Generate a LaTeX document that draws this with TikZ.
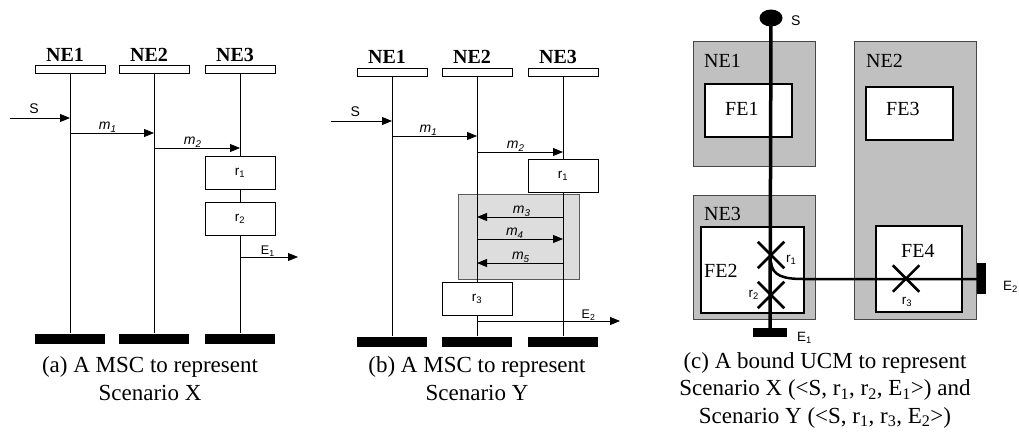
\documentclass[tikz,border=0pt]{standalone}
\usepackage{fontspec}
\setmainfont{Liberation Serif}
\setsansfont{Liberation Sans}
\usetikzlibrary{arrows.meta,shapes.geometric,shapes.misc}
\definecolor{NEGray}{RGB}{192,192,192}
\definecolor{NEBorder}{RGB}{70,70,70}
\definecolor{LoopGray}{RGB}{221,221,221}
\definecolor{LoopBorder}{RGB}{90,90,90}

\begin{document}
\begin{tikzpicture}[x=1pt,y=-1pt,
    inst/.style={draw,fill=white,line width=0.8pt,minimum width=70pt,
      minimum height=8pt,inner sep=0pt},
    stopbar/.style={fill=black,minimum width=70pt,minimum height=10pt,inner sep=0pt},
    iname/.style={font=\fontsize{20}{20}\selectfont\bfseries,anchor=base,inner sep=0pt},
    life/.style={line width=0.8pt},
    resp/.style={draw,fill=white,line width=0.8pt,minimum width=70pt,
      minimum height=33pt,inner sep=0pt,font=\sffamily\fontsize{13.5}{14}\selectfont},
    loopbox/.style={draw=LoopBorder,fill=LoopGray,line width=0.8pt,inner sep=0pt},
    msg/.style={-{Triangle[length=10pt,width=8pt]},line width=0.8pt},
    mlabel/.style={font=\sffamily\fontsize{14}{14}\selectfont,inner sep=0pt,above=0.5pt},
    caption/.style={font=\fontsize{23}{27.5}\selectfont,align=center,anchor=base,inner sep=0pt},
    ne/.style={draw=NEBorder,fill=NEGray,line width=0.8pt,inner sep=0pt},
    fe/.style={draw,fill=white,line width=1.2pt,inner sep=0pt},
    uname/.style={font=\fontsize{20}{20}\selectfont,anchor=base west,inner sep=0pt},
    ulabel/.style={font=\sffamily\fontsize{13.5}{14}\selectfont,inner sep=0pt},
    ucm/.style={line width=3.5pt},
    respx/.style={draw,cross out,line width=2.5pt,minimum size=24pt,inner sep=0pt},
    endbar/.style={fill=black,inner sep=0pt}
  ]
  \useasboundingbox (0,0) rectangle (1019,431);

  % (a) MSC of scenario X
  \node[inst] (a1) at (70,69) {};
  \node[inst] (a2) at (154,69) {};
  \node[inst] (a3) at (240,69) {};
  \node[iname] (a1t) at (65,61) {NE1};
  \node[iname] (a2t) at (149,61) {NE2};
  \node[iname] (a3t) at (235,61) {NE3};
  \node[stopbar] (a1e) at (70,338.5) {};
  \node[stopbar] (a2e) at (154,338.5) {};
  \node[stopbar] (a3e) at (240,338.5) {};
  \draw[life] (a1.south) -- (a1e.north);
  \draw[life] (a2.south) -- (a2e.north);
  \draw[life] (a3.south) -- (a3e.north);
  \node[resp] (ar1) at (240,173) {r\textsubscript{1}};
  \node[resp] (ar2) at (240,218.5) {r\textsubscript{2}};
  \coordinate (aS) at (10,118);
  \coordinate (aE) at (298,257);
  \draw[msg] (aS) -- node[mlabel,above=3pt,pos=0.4] (aSt) {S} (aS -| a1);
  \draw[msg] (a1 |- 0,133) -- node[mlabel,pos=0.45] (am1) {\textit{m\textsubscript{1}}} (a2 |- 0,133);
  \draw[msg] (a2 |- 0,148) -- node[mlabel,pos=0.45] (am2) {\textit{m\textsubscript{2}}} (a3 |- 0,148);
  \draw[msg] (a3 |- aE) -- node[mlabel,pos=0.48,font=\sffamily\fontsize{12.5}{14}\selectfont] (aE1) {E\textsubscript{1}} (aE);
  \node[caption] (acap) at (150,400) {(a) A MSC to represent\\Scenario X};

  % (b) MSC of scenario Y
  \node[loopbox,minimum width=121pt,minimum height=85pt] (loop) at (518.5,236.5) {};
  \node[inst] (b1) at (392,72) {};
  \node[inst] (b2) at (477,72) {};
  \node[inst] (b3) at (563,72) {};
  \node[iname] (b1t) at (387,63) {NE1};
  \node[iname] (b2t) at (472,63) {NE2};
  \node[iname] (b3t) at (558,63) {NE3};
  \node[stopbar] (b1e) at (392,341.5) {};
  \node[stopbar] (b2e) at (477,341.5) {};
  \node[stopbar] (b3e) at (563,341.5) {};
  \draw[life] (b1.south) -- (b1e.north);
  \draw[life] (b2.south) -- (b2e.north);
  \draw[life] (b3.south) -- (b3e.north);
  \node[resp] (br1) at (563,175.5) {r\textsubscript{1}};
  \node[resp] (br3) at (477,298.5) {r\textsubscript{3}};
  \coordinate (bS) at (331,121);
  \coordinate (bE) at (620,321);
  \draw[msg] (bS) -- node[mlabel,above=3pt,pos=0.4] (bSt) {S} (bS -| b1);
  \draw[msg] (b1 |- 0,136) -- node[mlabel,pos=0.43] (bm1) {\textit{m\textsubscript{1}}} (b2 |- 0,136);
  \draw[msg] (b2 |- 0,152) -- node[mlabel,pos=0.45] (bm2) {\textit{m\textsubscript{2}}} (b3 |- 0,152);
  \draw[msg] (b3 |- 0,217) -- node[mlabel,pos=0.48] (bm3) {\textit{m\textsubscript{3}}} (b2 |- 0,217);
  \draw[msg] (b2 |- 0,239) -- node[mlabel,pos=0.44] (bm4) {\textit{m\textsubscript{4}}} (b3 |- 0,239);
  \draw[msg] (b3 |- 0,263) -- node[mlabel,pos=0.49] (bm5) {\textit{m\textsubscript{5}}} (b2 |- 0,263);
  \draw[msg] (b2 |- bE) -- node[mlabel,pos=0.78,font=\sffamily\fontsize{12.5}{14}\selectfont] (bE2) {E\textsubscript{2}} (bE);
  \node[caption] (bcap) at (477,400) {(b) A MSC to represent\\Scenario Y};

  % (c) bound UCM
  \node[ne,minimum width=122pt,minimum height=125pt] (ne1) at (754,103.5) {};
  \node[ne,minimum width=122pt,minimum height=278pt] (ne2) at (915,180) {};
  \node[ne,minimum width=122pt,minimum height=124pt] (ne3) at (754,257) {};
  \node[fe,minimum width=87pt,minimum height=53pt] (fe1) at (748.5,110.5) {};
  \node[fe,minimum width=87pt,minimum height=53pt] (fe3) at (909.5,113.5) {};
  \node[fe,minimum width=103pt,minimum height=86pt] (fe2) at (752.5,270) {};
  \node[fe,minimum width=86pt,minimum height=86pt] (fe4) at (919,269) {};
  \node[uname] (ne1t) at (704,67) {NE1};
  \node[uname] (ne2t) at (866,67) {NE2};
  \node[uname] (ne3t) at (704,220) {NE3};
  \node[uname] (fe1t) at (725,115) {FE1};
  \node[uname] (fe3t) at (886,115) {FE3};
  \node[uname] (fe2t) at (704,277) {FE2};
  \node[uname] (fe4t) at (901,257) {FE4};
  \node[ellipse,fill=black,minimum width=23pt,minimum height=17pt,inner sep=0pt] (start) at (771,18) {};
  \node[endbar,minimum width=34pt,minimum height=9pt] (e1) at (770,332.5) {};
  \node[endbar,minimum width=9pt,minimum height=31pt] (e2) at (981.5,278.5) {};
  \coordinate (fork) at (771,262);
  \coordinate (bend) at (803,279);
  \draw[ucm] (start.center) -- (e1.center);
  \draw[ucm,line width=2.5pt] (fork) .. controls (772,276) and (784,279) .. (bend) -- (bend -| e2.center);
  \node[respx] (x1) at (771,255) {};
  \node[respx] (x2) at (771,295) {};
  \node[respx] (x3) at (906,278.5) {};
  \node[ulabel,font=\sffamily\fontsize{14}{14}\selectfont,anchor=base west] (st) at (791,25) {S};
  \node[ulabel,anchor=base west] (r1t) at (786,262) {r\textsubscript{1}};
  \node[ulabel,anchor=base east] (r2t) at (759,297) {r\textsubscript{2}};
  \node[ulabel,anchor=base] (r3t) at (907,304) {r\textsubscript{3}};
  \node[ulabel,anchor=base west] (e1t) at (797,341) {E\textsubscript{1}};
  \node[ulabel,anchor=base west] (e2t) at (1003,290) {E\textsubscript{2}};
  \node[caption] (ccap) at (825,423) {(c) A bound UCM to represent\\
    Scenario X (<S, r\textsubscript{1}, r\textsubscript{2}, E\textsubscript{1}>) and\\
    Scenario Y (<S, r\textsubscript{1}, r\textsubscript{3}, E\textsubscript{2}>)};
\end{tikzpicture}
\end{document}
